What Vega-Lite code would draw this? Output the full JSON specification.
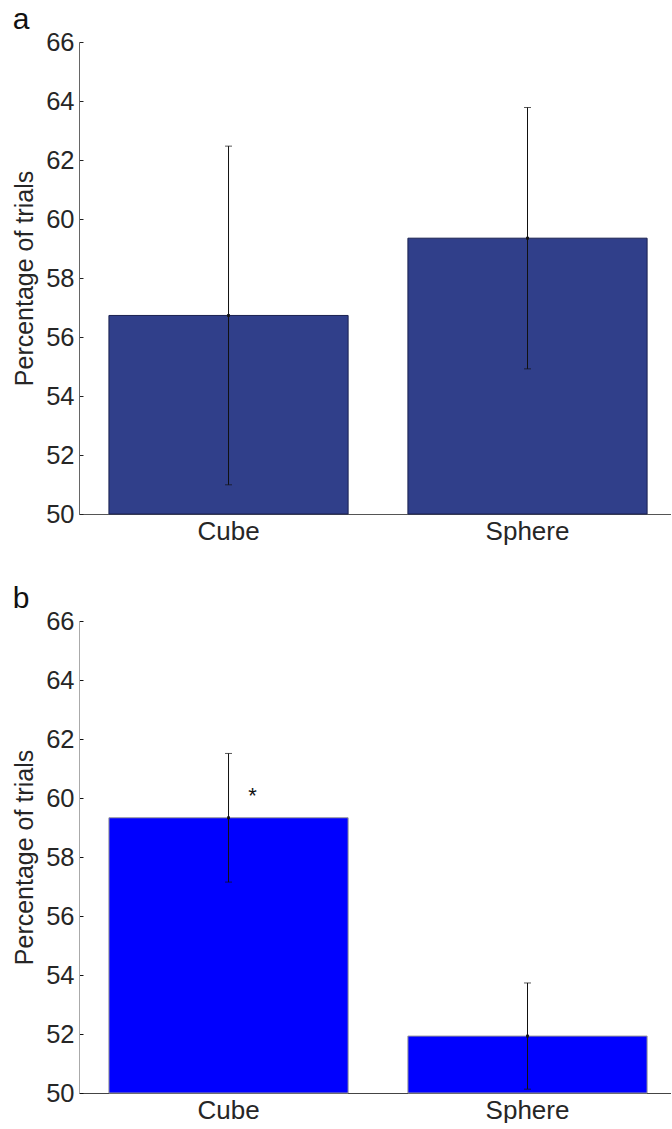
{
  "$schema": "https://vega.github.io/schema/vega-lite/v6.json",
  "padding": {"left": 12, "top": 5, "right": 0, "bottom": 0},
  "config": {
    "font": "Liberation Sans",
    "view": {"stroke": null},
    "axis": {"labelFont": "Liberation Sans", "titleFont": "Liberation Sans", "labelColor": "#262626", "titleColor": "#262626", "grid": false},
    "title": {"font": "Liberation Sans", "fontSize": 30, "fontWeight": "normal", "color": "#111111", "anchor": "start", "frame": "bounds", "baseline": "alphabetic"}
  },
  "datasets": {
    "a": [
      {"cond": "Cube", "mean": 56.73, "lo": 50.99, "hi": 62.47},
      {"cond": "Sphere", "mean": 59.35, "lo": 54.92, "hi": 63.78}
    ],
    "b": [
      {"cond": "Cube", "mean": 59.33, "lo": 57.15, "hi": 61.51, "sig": "*", "sigY": 60.06},
      {"cond": "Sphere", "mean": 51.93, "lo": 50.13, "hi": 53.73, "sig": "", "sigY": 51.93}
    ]
  },
  "spacing": 40,
  "vconcat": [
    {
      "title": {"text": "a", "offset": -5},
      "width": 592,
      "height": 472,
      "data": {"name": "a"},
      "encoding": {
        "x": {"field": "cond", "type": "nominal", "sort": ["Cube", "Sphere"],
              "scale": {"paddingInner": 0.2, "paddingOuter": 0.09, "align": 0.556},
              "axis": {"title": null, "labelAngle": 0, "labelFontSize": 26, "labelPadding": 8, "tickSize": -4, "tickColor": "#444444", "domainColor": "#555555", "labelColor": "#262626"}}
      },
      "layer": [
        {
          "mark": {"type": "bar", "color": "#303F8A", "stroke": "#1A2150", "strokeWidth": 1},
          "encoding": {
            "y": {"field": "mean", "type": "quantitative", "scale": {"domain": [50, 66], "zero": false, "nice": false},
                  "axis": {"title": "Percentage of trials", "titleFontSize": 25, "titleFontWeight": "normal", "titlePadding": 8, "labelFontSize": 25.5, "values": [50, 52, 54, 56, 58, 60, 62, 64, 66], "tickSize": -4, "labelPadding": 9, "tickColor": "#222222", "domainColor": "#666666"}},
            "y2": {"datum": 50}
          }
        },
        {
          "mark": {"type": "rule", "color": "#111111", "strokeWidth": 1},
          "encoding": {"y": {"field": "lo", "type": "quantitative"}, "y2": {"field": "hi"}}
        },
        {
          "mark": {"type": "tick", "orient": "horizontal", "size": 7, "thickness": 1, "color": "#111111"},
          "encoding": {"y": {"field": "lo", "type": "quantitative"}}
        },
        {
          "mark": {"type": "tick", "orient": "horizontal", "size": 7, "thickness": 1, "color": "#111111"},
          "encoding": {"y": {"field": "hi", "type": "quantitative"}}
        },
        {
          "mark": {"type": "square", "size": 8, "color": "#111111", "opacity": 1},
          "encoding": {"y": {"field": "mean", "type": "quantitative"}}
        }
      ]
    },
    {
      "title": {"text": "b", "offset": -5},
      "width": 592,
      "height": 472,
      "data": {"name": "b"},
      "encoding": {
        "x": {"field": "cond", "type": "nominal", "sort": ["Cube", "Sphere"],
              "scale": {"paddingInner": 0.2, "paddingOuter": 0.09, "align": 0.556},
              "axis": {"title": null, "labelAngle": 0, "labelFontSize": 26, "labelPadding": 8, "tickSize": -4, "tickColor": "#444444", "domainColor": "#444444", "labelColor": "#262626"}}
      },
      "layer": [
        {
          "mark": {"type": "bar", "color": "#0000FF", "stroke": "#999999", "strokeWidth": 1},
          "encoding": {
            "y": {"field": "mean", "type": "quantitative", "scale": {"domain": [50, 66], "zero": false, "nice": false},
                  "axis": {"title": "Percentage of trials", "titleFontSize": 25, "titleFontWeight": "normal", "titlePadding": 8, "labelFontSize": 25.5, "values": [50, 52, 54, 56, 58, 60, 62, 64, 66], "tickSize": -4, "labelPadding": 9, "tickColor": "#111111", "domainColor": "#aaaaaa"}},
            "y2": {"datum": 50}
          }
        },
        {
          "mark": {"type": "rule", "color": "#111111", "strokeWidth": 1},
          "encoding": {"y": {"field": "lo", "type": "quantitative"}, "y2": {"field": "hi"}}
        },
        {
          "mark": {"type": "tick", "orient": "horizontal", "size": 7, "thickness": 1, "color": "#111111"},
          "encoding": {"y": {"field": "lo", "type": "quantitative"}}
        },
        {
          "mark": {"type": "tick", "orient": "horizontal", "size": 7, "thickness": 1, "color": "#111111"},
          "encoding": {"y": {"field": "hi", "type": "quantitative"}}
        },
        {
          "mark": {"type": "square", "size": 8, "color": "#111111", "opacity": 1},
          "encoding": {"y": {"field": "mean", "type": "quantitative"}}
        },
        {
          "mark": {"type": "text", "fontSize": 22, "dx": 24, "baseline": "middle", "color": "#111111"},
          "encoding": {"y": {"field": "sigY", "type": "quantitative"}, "text": {"field": "sig"}}
        }
      ]
    }
  ]
}
